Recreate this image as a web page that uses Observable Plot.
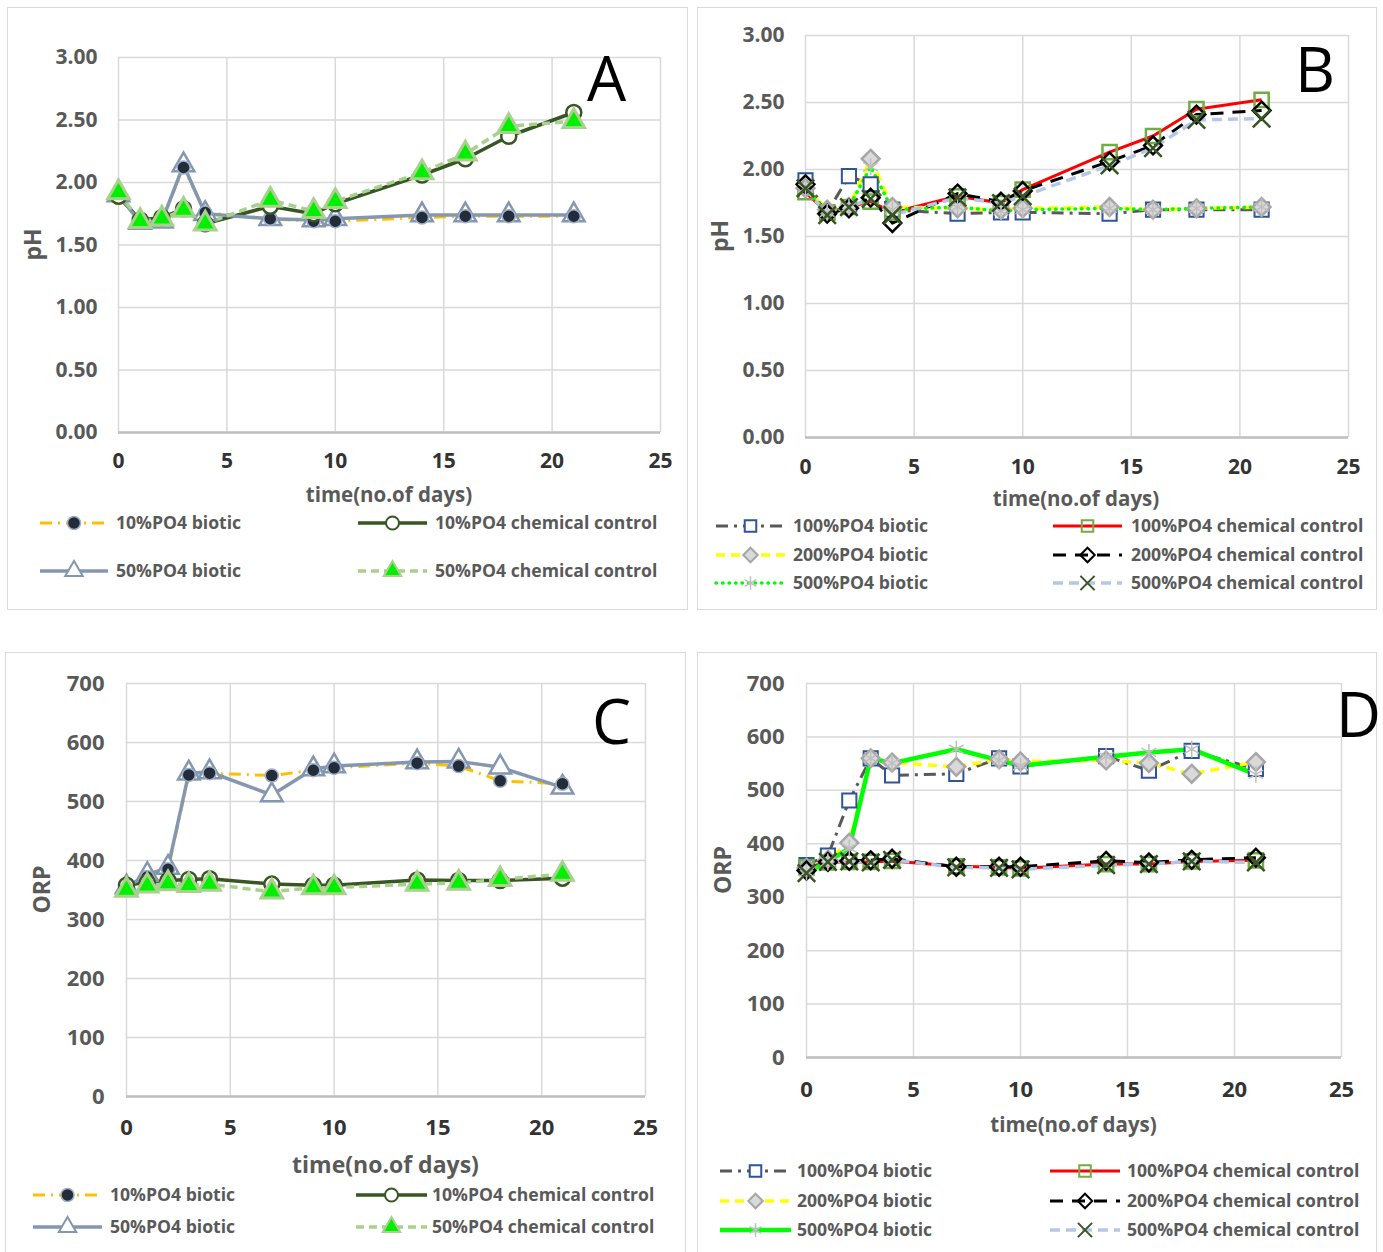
<!DOCTYPE html>
<html><head><meta charset="utf-8">
<script src="https://cdn.jsdelivr.net/npm/d3@7"></script>
<script src="https://cdn.jsdelivr.net/npm/@observablehq/plot@0.6"></script>
<style>
body{margin:0;background:#fff;}
#page{position:relative;width:1383px;height:1252px;overflow:hidden;font-family:"Open Sans",sans-serif;background:#fff;}
.panel{position:absolute;border:1px solid #d9d9d9;box-sizing:border-box;}
.pw{position:absolute;}
.pw svg{background:transparent !important;overflow:visible;}
.pw g[aria-label="y-axis tick label"]{fill:#595959;font-weight:700;}
.pw g[aria-label="x-axis tick label"]{fill:#333333;font-weight:700;}
#overlay{position:absolute;left:0;top:0;}
</style></head><body><div id="page"></div>
<script>
// ---------------- data ----------------
const days = [0, 1, 2, 3, 4, 7, 9, 10, 14, 16, 18, 21];
const xTicks = [0, 5, 10, 15, 20, 25];
const phTicks = [0, 0.5, 1, 1.5, 2, 2.5, 3];
const orpTicks = [0, 100, 200, 300, 400, 500, 600, 700];

const labelsAC = ["10%PO4 biotic", "10%PO4 chemical control", "50%PO4 biotic", "50%PO4 chemical control"];
const labelsBD = ["100%PO4 biotic", "100%PO4 chemical control", "200%PO4 biotic", "200%PO4 chemical control", "500%PO4 biotic", "500%PO4 chemical control"];

// Panel A: pH
const pHA_10biotic = [1.88, 1.69, 1.70, 2.12, 1.76, 1.71, 1.69, 1.69, 1.72, 1.73, 1.73, 1.73];
const pHA_10chem   = [1.89, 1.70, 1.72, 1.79, 1.67, 1.81, 1.75, 1.83, 2.06, 2.19, 2.37, 2.56];
const pHA_50biotic = [1.90, 1.68, 1.69, 2.14, 1.75, 1.71, 1.70, 1.71, 1.74, 1.74, 1.74, 1.74];
const pHA_50chem   = [1.92, 1.69, 1.71, 1.78, 1.67, 1.86, 1.77, 1.85, 2.08, 2.23, 2.45, 2.49];

// Panel B: pH
const pHB_100biotic = [1.92, 1.68, 1.95, 1.89, 1.70, 1.67, 1.68, 1.68, 1.67, 1.70, 1.70, 1.70];
const pHB_100chem   = [1.83, 1.68, 1.72, 1.76, 1.68, 1.80, 1.75, 1.85, 2.13, 2.25, 2.45, 2.52];
const pHB_200biotic = [1.86, 1.70, 1.72, 2.08, 1.72, 1.71, 1.70, 1.71, 1.72, 1.70, 1.71, 1.72];
const pHB_200chem   = [1.89, 1.67, 1.71, 1.79, 1.60, 1.82, 1.76, 1.84, 2.06, 2.18, 2.41, 2.44];
const pHB_500biotic = [1.86, 1.68, 1.72, 2.02, 1.70, 1.72, 1.69, 1.70, 1.71, 1.70, 1.71, 1.72];
const pHB_500chem   = [1.86, 1.66, 1.72, 1.78, 1.66, 1.79, 1.75, 1.80, 2.03, 2.16, 2.37, 2.38];

// Panel C: ORP
const orpC_10biotic = [355, 372, 385, 545, 548, 544, 553, 557, 565, 560, 535, 530];
const orpC_10chem   = [358, 363, 366, 368, 369, 360, 358, 358, 367, 366, 366, 370];
const orpC_50biotic = [355, 376, 388, 548, 550, 511, 555, 560, 567, 568, 558, 524];
const orpC_50chem   = [350, 357, 361, 358, 360, 347, 354, 354, 360, 362, 368, 377];

// Panel D: ORP
const orpD_100biotic = [360, 378, 481, 560, 528, 531, 560, 545, 564, 537, 574, 540];
const orpD_100chem   = [356, 365, 366, 366, 368, 358, 356, 354, 362, 362, 367, 369];
const orpD_200biotic = [355, 370, 402, 560, 552, 544, 558, 554, 556, 551, 531, 553];
const orpD_200chem   = [350, 366, 368, 369, 372, 357, 357, 357, 368, 365, 370, 374];
const orpD_500biotic = [347, 366, 392, 560, 551, 577, 556, 546, 563, 571, 577, 530];
const orpD_500chem   = [345, 366, 367, 365, 370, 356, 355, 352, 360, 362, 367, 365];

// ---------------- styles ----------------
const stylesAC = [
  {stroke: "#FFC000", width: 3, dash: "12,6,2,6", symbol: "circle", r: 6.5, fill: "#232C3B", mstroke: "#9FAEC4", msw: 1.5},
  {stroke: "#375623", width: 3.5, dash: null, symbol: "circle", r: 7.5, fill: "white", mstroke: "#375623", msw: 2.5},
  {stroke: "#8497B0", width: 3.5, dash: null, symbol: "triangle", r: 8, fill: "white", mstroke: "#8497B0", msw: 2.5},
  {stroke: "#A9D18E", width: 3.5, dash: "8,5", symbol: "triangle", r: 8, fill: "#00F000", mstroke: "#A9D18E", msw: 3}
];
const markerOrderAC = [2, 0, 1, 3];
const stylesB = [
  {stroke: "#595959", width: 3, dash: "12,6,3,6", symbol: "square", r: 8, fill: "white", mstroke: "#2F5597", msw: 2},
  {stroke: "#FF0000", width: 3, dash: null, symbol: "square", r: 8, fill: "none", mstroke: "#70AD47", msw: 2.5},
  {stroke: "#FFFF00", width: 3.5, dash: "9,6", symbol: "diamond2", r: 8, fill: "#D9D9D9", mstroke: "#A6A6A6", msw: 2.5},
  {stroke: "#000000", width: 3, dash: "13,9", symbol: "diamond2", r: 8, fill: "none", mstroke: "#000000", msw: 2.5},
  {stroke: "#00FF00", width: 3.5, dash: "0.5,6", cap: "round", symbol: "asterisk", r: 8, fill: "none", mstroke: "#BFBFBF", msw: 1.5},
  {stroke: "#B4C7E7", width: 3.5, dash: "10,6", symbol: "times", r: 8, fill: "none", mstroke: "#375623", msw: 2.5}
];
const stylesD = stylesB.map((s, i) => i === 4 ? {...s, width: 4.5, dash: null, cap: null} : s);
const markerOrderBD = [0, 1, 2, 3, 4, 5];

const panels = [
  {left: 0, top: 0, width: 690, height: 480, mL: 118, mR: 30, mT: 57, mB: 48,
   yDomain: [0, 3], yTicks: phTicks, fmt: d => d.toFixed(2), fs: 21, xPad: 21, yPad: 21,
   series: [pHA_10biotic, pHA_10chem, pHA_50biotic, pHA_50chem], styles: stylesAC, order: markerOrderAC, labels: labelsAC},
  {left: 690, top: 0, width: 693, height: 480, mL: 115, mR: 35, mT: 35, mB: 43,
   yDomain: [0, 3], yTicks: phTicks, fmt: d => d.toFixed(2), fs: 21, xPad: 22, yPad: 21,
   series: [pHB_100biotic, pHB_100chem, pHB_200biotic, pHB_200chem, pHB_500biotic, pHB_500chem], styles: stylesB, order: markerOrderBD, labels: labelsBD},
  {left: 0, top: 645, width: 690, height: 500, mL: 126, mR: 45, mT: 38, mB: 49,
   yDomain: [0, 700], yTicks: orpTicks, fmt: d => String(d), fs: 22, xPad: 23, yPad: 22,
   series: [orpC_10biotic, orpC_10chem, orpC_50biotic, orpC_50chem], styles: stylesAC, order: markerOrderAC, labels: labelsAC},
  {left: 690, top: 645, width: 693, height: 460, mL: 116, mR: 42, mT: 38, mB: 48,
   yDomain: [0, 700], yTicks: orpTicks, fmt: d => String(d), fs: 22, xPad: 24, yPad: 22,
   series: [orpD_100biotic, orpD_100chem, orpD_200biotic, orpD_200chem, orpD_500biotic, orpD_500chem], styles: stylesD, order: markerOrderBD, labels: labelsBD}
];

const rowsOf = arr => days.map((d, i) => ({day: d, value: arr[i]}));

const page = document.getElementById("page");

// panel frames
[[7, 7, 681, 603], [697, 7, 680, 603], [5, 652, 681, 620], [697, 652, 680, 620]].forEach(([l, t, w, h]) => {
  const d = document.createElement("div");
  d.className = "panel";
  Object.assign(d.style, {left: l + "px", top: t + "px", width: w + "px", height: h + "px"});
  page.appendChild(d);
});

panels.forEach(p => {
  const marks = [
    Plot.gridX(xTicks, {stroke: "#d9d9d9", strokeOpacity: 1, strokeWidth: 1.5}),
    Plot.gridY(p.yTicks, {stroke: "#d9d9d9", strokeOpacity: 1, strokeWidth: 1.5}),
    Plot.ruleY([0], {stroke: "#bfbfbf", strokeWidth: 2.5}),
    Plot.axisX(xTicks, {tickSize: 0, tickPadding: p.xPad, label: null}),
    Plot.axisY(p.yTicks, {tickSize: 0, tickPadding: p.yPad, tickFormat: p.fmt, label: null})
  ];
  p.series.forEach((arr, i) => {
    const s = p.styles[i];
    marks.push(Plot.line(rowsOf(arr), {x: "day", y: "value", stroke: s.stroke, strokeWidth: s.width,
      strokeDasharray: s.dash || undefined, strokeLinecap: s.cap || "butt", strokeLinejoin: "round"}));
  });
  p.order.forEach(i => {
    const s = p.styles[i];
    marks.push(Plot.dot(rowsOf(p.series[i]), {x: "day", y: "value", symbol: s.symbol, r: s.r,
      fill: s.fill, stroke: s.mstroke, strokeWidth: s.msw}));
  });
  const chart = Plot.plot({
    width: p.width, height: p.height,
    marginLeft: p.mL, marginRight: p.mR, marginTop: p.mT, marginBottom: p.mB,
    x: {domain: [0, 25], label: null},
    y: {domain: p.yDomain, label: null},
    style: {fontFamily: "'Open Sans', sans-serif", fontSize: p.fs + "px", background: "transparent", overflow: "visible"},
    marks
  });
  const w = document.createElement("div");
  w.className = "pw";
  Object.assign(w.style, {left: p.left + "px", top: p.top + "px"});
  w.appendChild(chart);
  page.appendChild(w);
});

// ---------------- overlay: titles, letters, legends ----------------
const ov = d3.create("svg").attr("id", "overlay").attr("width", 1383).attr("height", 1252)
  .style("font-family", "'Open Sans', sans-serif");

const letters = [["A", 587, 101], ["B", 1295, 92], ["C", 592, 744], ["D", 1336, 737]];
letters.forEach(([t, x, y]) => ov.append("text").attr("x", x).attr("y", y).attr("font-size", 62)
  .attr("fill", "#000").text(t));

const xTitles = [[389, 502, 20.5], [1076, 506, 20.5], [385.5, 1173, 23], [1073.5, 1132, 20.5]];
xTitles.forEach(([x, y, fs]) => ov.append("text").attr("x", x).attr("y", y).attr("text-anchor", "middle")
  .attr("font-size", fs).attr("font-weight", 700).attr("fill", "#595959").text("time(no.of days)"));

const yTitles = [["pH", 40.5, 244.5], ["pH", 727.5, 236], ["ORP", 50, 889.5], ["ORP", 731, 870]];
yTitles.forEach(([t, x, y]) => ov.append("text").attr("transform", `translate(${x},${y}) rotate(-90)`)
  .attr("text-anchor", "middle").attr("font-size", 23).attr("font-weight", 700).attr("fill", "#595959").text(t));

const symMap = {circle: d3.symbolCircle, square: d3.symbolSquare, diamond2: d3.symbolDiamond2,
  triangle: d3.symbolTriangle, times: d3.symbolTimes, asterisk: d3.symbolAsterisk};

const legends = [
  {rows: [523, 571], cols: [[40, 108, 116], [358, 427, 435]], styles: stylesAC, labels: labelsAC},
  {rows: [526, 555, 583], cols: [[716, 785, 793], [1053, 1122, 1131]], styles: stylesB, labels: labelsBD},
  {rows: [1195, 1227], cols: [[33, 102, 110], [356, 427, 432]], styles: stylesAC, labels: labelsAC},
  {rows: [1171, 1201, 1230], cols: [[720, 791, 797], [1050, 1120, 1127]], styles: stylesD, labels: labelsBD}
];
legends.forEach(L => {
  L.labels.forEach((lab, i) => {
    const row = Math.floor(i / 2), col = i % 2;
    const cy = L.rows[row];
    const [x1, x2, tx] = L.cols[col];
    const s = L.styles[i];
    ov.append("line").attr("x1", x1).attr("x2", x2).attr("y1", cy).attr("y2", cy)
      .attr("stroke", s.stroke).attr("stroke-width", s.width)
      .attr("stroke-dasharray", s.dash || null).attr("stroke-linecap", s.cap || "butt");
    const rr = Math.min(s.r, 6.5);
    ov.append("path").attr("transform", `translate(${(x1 + x2) / 2},${cy})`)
      .attr("d", d3.symbol().type(symMap[s.symbol]).size(Math.PI * rr * rr)())
      .attr("fill", s.fill).attr("stroke", s.mstroke).attr("stroke-width", Math.min(s.msw, 2));
    ov.append("text").attr("x", tx).attr("y", cy + 6.3).attr("font-size", 17.6).attr("font-weight", 700)
      .attr("fill", "#595959").text(lab);
  });
});

page.appendChild(ov.node());
</script></body></html>
